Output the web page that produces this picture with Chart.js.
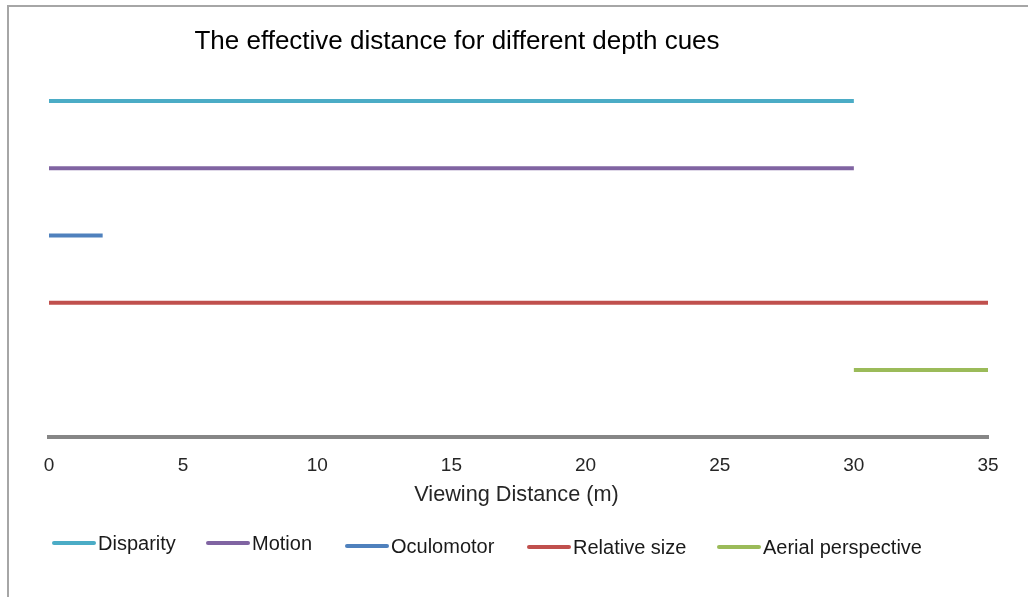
<!DOCTYPE html>
<html>
<head>
<meta charset="utf-8">
<title>Depth cues</title>
<script src="https://cdn.jsdelivr.net/npm/chart.js@4/dist/chart.umd.min.js"></script>
<style>
    html, body { margin: 0; padding: 0; background: #fff; }
    #wrap { position: relative; width: 1028px; height: 597px; overflow: hidden; }
    #frame {
        position: absolute; left: 7px; top: 5px; width: 1100px; height: 700px;
        border-left: 2px solid #a6a6a6; border-top: 2px solid #a6a6a6;
    }
    canvas { position: absolute; left: 0; top: 0; }
</style>
</head>
<body>
<div id="wrap">
    <div id="frame"></div>
    <canvas id="depthChart" width="1028" height="597"></canvas>
</div>
<script>
// Range (in metres) over which each depth cue is effective
const cues = ['Disparity', 'Motion', 'Oculomotor', 'Relative size', 'Aerial perspective'];
const rangeStart = [0, 0, 0, 0, 30];
const rangeEnd = [30, 30, 2, 35, 35];
const rowLevel = [5, 4, 3, 2, 1];
const distanceTicks = [0, 5, 10, 15, 20, 25, 30, 35];

const cueColors = ['#4bacc6', '#8064a2', '#4f81bd', '#c0504d', '#9bbb59'];

// legend entries sit in a single row under the axis
const legendX = [52, 206, 345, 527, 717];
const legendY = [543, 543, 546, 547, 547];

const FONT = '"Liberation Sans", Arial, sans-serif';

const datasets = cues.map((name, i) => ({
    label: name,
    data: [
        { x: rangeStart[i], y: rowLevel[i] },
        { x: rangeEnd[i], y: rowLevel[i] }
    ],
    borderColor: cueColors[i],
    backgroundColor: cueColors[i],
    borderWidth: 4,
    borderCapStyle: 'butt',
    pointRadius: 0,
    fill: false,
    clip: false
}));

// title, axis title and legend drawn by hand so they sit exactly where wanted
const decorations = {
    id: 'decorations',
    afterDraw(chart) {
        const ctx = chart.ctx;
        const area = chart.chartArea;
        ctx.save();
        ctx.textBaseline = 'middle';

        ctx.fillStyle = '#000';
        ctx.font = '26px ' + FONT;
        ctx.textAlign = 'center';
        ctx.fillText('The effective distance for different depth cues', 457, 42);

        ctx.fillStyle = '#262626';
        ctx.font = '21.7px ' + FONT;
        ctx.fillText('Viewing Distance (m)', (area.left + area.right) / 2 - 2, 495);

        ctx.font = '20px ' + FONT;
        ctx.textAlign = 'left';
        chart.data.datasets.forEach((ds, i) => {
            ctx.strokeStyle = ds.borderColor;
            ctx.lineWidth = 4;
            ctx.lineCap = 'round';
            ctx.beginPath();
            ctx.moveTo(legendX[i] + 2, legendY[i]);
            ctx.lineTo(legendX[i] + 42, legendY[i]);
            ctx.stroke();
            ctx.fillStyle = '#1a1a1a';
            ctx.fillText(ds.label, legendX[i] + 46, legendY[i] + 1);
        });
        ctx.restore();
    }
};

new Chart(document.getElementById('depthChart'), {
    type: 'line',
    data: { datasets: datasets },
    plugins: [decorations],
    options: {
        responsive: false,
        animation: false,
        layout: {
            padding: { top: 101, left: 49, right: 40, bottom: 103 }
        },
        plugins: {
            legend: { display: false },
            title: { display: false },
            tooltip: { enabled: false }
        },
        scales: {
            x: {
                type: 'linear',
                min: 0,
                max: 35,
                afterBuildTicks: (scale) => {
                    scale.ticks = distanceTicks.map(v => ({ value: v }));
                },
                grid: { display: false, drawTicks: false },
                border: { display: true, color: '#868686', width: 4 },
                ticks: {
                    padding: 17,
                    color: '#262626',
                    font: { family: FONT, size: 19 }
                }
            },
            y: {
                type: 'linear',
                display: false,
                min: 0,
                max: 5
            }
        }
    }
});
</script>
</body>
</html>
